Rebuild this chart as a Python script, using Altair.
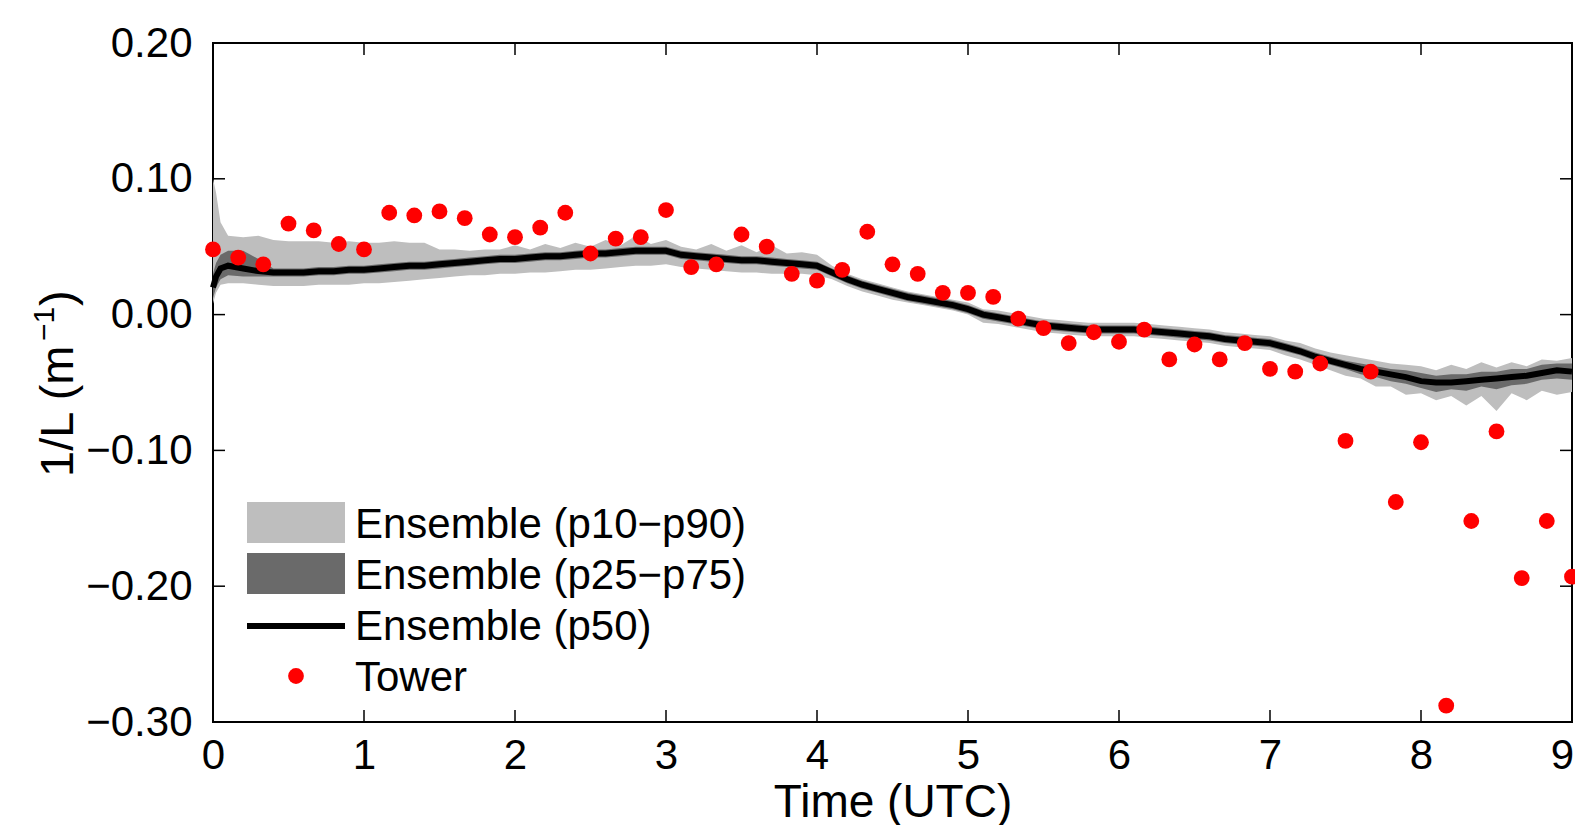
import altair as alt
import pandas as pd

# ---------------- data ----------------
hours = [0, 0.02, 0.05] + [round(0.1 * i, 1) for i in range(1, 91)]

p50 = [0.020, 0.028, 0.034,
       0.036, 0.034, 0.032, 0.031, 0.031, 0.031, 0.032, 0.032, 0.033, 0.033,
       0.034, 0.035, 0.036, 0.036, 0.037, 0.038, 0.039, 0.040, 0.041, 0.041,
       0.042, 0.043, 0.043, 0.044, 0.045, 0.045, 0.046, 0.047, 0.047, 0.047,
       0.044, 0.043, 0.042, 0.041, 0.040, 0.040, 0.039, 0.038, 0.037, 0.036,
       0.031, 0.026, 0.022, 0.019, 0.016, 0.013, 0.011, 0.009, 0.007, 0.004,
       0.000, -0.002, -0.004, -0.006, -0.008, -0.009, -0.010, -0.011, -0.011, -0.011,
       -0.011, -0.012, -0.013, -0.014, -0.015, -0.016, -0.018, -0.019, -0.020, -0.021,
       -0.024, -0.027, -0.031, -0.034, -0.037, -0.040, -0.042, -0.044, -0.046, -0.049,
       -0.050, -0.050, -0.049, -0.048, -0.047, -0.046, -0.045, -0.043, -0.041, -0.042]

p90 = [0.100, 0.090, 0.068,
       0.058, 0.057, 0.058, 0.055, 0.054, 0.054, 0.054, 0.053, 0.054, 0.053,
       0.053, 0.054, 0.053, 0.053, 0.048, 0.048, 0.047, 0.048, 0.048, 0.051,
       0.048, 0.052, 0.049, 0.053, 0.050, 0.055, 0.051, 0.058, 0.052, 0.055,
       0.050, 0.048, 0.052, 0.047, 0.051, 0.046, 0.051, 0.045, 0.046, 0.044,
       0.036, 0.030, 0.026, 0.023, 0.020, 0.017, 0.015, 0.013, 0.011, 0.009,
       0.004, 0.003, 0.001, -0.001, -0.003, -0.004, -0.005, -0.006, -0.006, -0.006,
       -0.006, -0.007, -0.008, -0.009, -0.010, -0.011, -0.013, -0.014, -0.015, -0.016,
       -0.019, -0.021, -0.025, -0.028, -0.030, -0.032, -0.034, -0.036, -0.037, -0.038,
       -0.041, -0.037, -0.040, -0.035, -0.039, -0.035, -0.038, -0.033, -0.034, -0.032]

p10 = [0.008, 0.016, 0.022,
       0.023, 0.023, 0.022, 0.021, 0.021, 0.021, 0.022, 0.022, 0.022, 0.023,
       0.023, 0.024, 0.025, 0.026, 0.027, 0.028, 0.029, 0.029, 0.030, 0.030,
       0.031, 0.031, 0.032, 0.033, 0.033, 0.034, 0.035, 0.036, 0.036, 0.037,
       0.035, 0.034, 0.033, 0.032, 0.031, 0.031, 0.030, 0.030, 0.030, 0.029,
       0.026, 0.021, 0.017, 0.014, 0.011, 0.009, 0.007, 0.005, 0.003, 0.000,
       -0.006, -0.007, -0.009, -0.011, -0.013, -0.014, -0.015, -0.016, -0.016, -0.016,
       -0.016, -0.017, -0.018, -0.019, -0.020, -0.021, -0.023, -0.024, -0.025, -0.026,
       -0.030, -0.033, -0.037, -0.041, -0.045, -0.047, -0.053, -0.053, -0.059, -0.058,
       -0.063, -0.060, -0.067, -0.060, -0.071, -0.058, -0.063, -0.056, -0.059, -0.057]

p75 = [0.030, 0.038, 0.044,
       0.047, 0.047, 0.041, 0.034, 0.034, 0.034, 0.035, 0.035, 0.036, 0.036,
       0.037, 0.038, 0.039, 0.039, 0.040, 0.041, 0.042, 0.043, 0.044, 0.044,
       0.045, 0.046, 0.046, 0.047, 0.048, 0.048, 0.049, 0.050, 0.050, 0.050,
       0.047, 0.046, 0.045, 0.044, 0.043, 0.043, 0.042, 0.041, 0.040, 0.039,
       0.034, 0.029, 0.025, 0.022, 0.019, 0.016, 0.014, 0.012, 0.010, 0.007,
       0.003, 0.001, -0.001, -0.003, -0.005, -0.006, -0.007, -0.008, -0.008, -0.008,
       -0.008, -0.009, -0.010, -0.011, -0.012, -0.013, -0.015, -0.016, -0.017, -0.018,
       -0.021, -0.024, -0.028, -0.031, -0.034, -0.036, -0.038, -0.040, -0.041, -0.043,
       -0.045, -0.044, -0.044, -0.042, -0.042, -0.040, -0.040, -0.037, -0.036, -0.036]

p25 = [0.012, 0.020, 0.026,
       0.029, 0.028, 0.028, 0.028, 0.028, 0.028, 0.029, 0.029, 0.030, 0.030,
       0.031, 0.032, 0.033, 0.033, 0.034, 0.035, 0.036, 0.037, 0.038, 0.038,
       0.039, 0.040, 0.040, 0.041, 0.042, 0.042, 0.043, 0.044, 0.044, 0.044,
       0.041, 0.040, 0.039, 0.038, 0.037, 0.037, 0.036, 0.035, 0.034, 0.033,
       0.028, 0.023, 0.019, 0.016, 0.013, 0.010, 0.008, 0.006, 0.004, 0.001,
       -0.003, -0.005, -0.007, -0.009, -0.011, -0.012, -0.013, -0.014, -0.014, -0.014,
       -0.014, -0.015, -0.016, -0.017, -0.018, -0.019, -0.021, -0.022, -0.023, -0.024,
       -0.027, -0.030, -0.034, -0.037, -0.040, -0.044, -0.046, -0.049, -0.051, -0.054,
       -0.057, -0.055, -0.056, -0.053, -0.055, -0.052, -0.051, -0.048, -0.047, -0.048]

tower_hours = [round(i / 6, 3) for i in range(0, 55)]
tower_vals = [0.048, 0.042, 0.037, 0.067, 0.062, 0.052, 0.048, 0.075, 0.073, 0.076,
              0.071, 0.059, 0.057, 0.064, 0.075, 0.045, 0.056, 0.057, 0.077, 0.035,
              0.037, 0.059, 0.050, 0.030, 0.025, 0.033, 0.061, 0.037, 0.030, 0.016,
              0.016, 0.013, -0.003, -0.010, -0.021, -0.013, -0.020, -0.011, -0.033, -0.022,
              -0.033, -0.021, -0.040, -0.042, -0.036, -0.093, -0.042, -0.138, -0.094, -0.288,
              -0.152, -0.086, -0.194, -0.152, -0.193]

x_ticks = [0, 1, 2, 3, 4, 5, 6, 7, 8, 9]
y_ticks = [-0.30, -0.20, -0.10, 0.00, 0.10, 0.20]

legend_labels = ["Ensemble (p10\u2212p90)", "Ensemble (p25\u2212p75)", "Ensemble (p50)", "Tower"]
x_title = "Time (UTC)"
y_title_parts = ["1/L (m", "\u22121", ")"]

# ---------------- chart ----------------
W, H = 1359, 679
FONT = "Liberation Sans"
LIGHT = "#bebebe"
DARK = "#6a6a6a"

ens = pd.DataFrame({"t": hours, "p10": p10, "p25": p25, "p50": p50, "p75": p75, "p90": p90})
tower = pd.DataFrame({"t": tower_hours, "v": tower_vals})
xt = pd.DataFrame({"t": x_ticks})
yt = pd.DataFrame({"v": y_ticks})
txt = pd.DataFrame({"label": legend_labels + y_title_parts})

xscale = alt.Scale(domain=[0, 9], nice=False, zero=False)
yscale = alt.Scale(domain=[-0.3, 0.2], nice=False, zero=False)

xaxis = alt.Axis(values=x_ticks, format="d", ticks=False, domain=False, grid=False,
                 labelFont=FONT, labelFontSize=42, labelColor="black", labelPadding=13,
                 labelFlush=False,
                 labelOffset={"condition": {"test": "datum.value === 9", "value": -10}, "value": 0},
                 title=x_title, titleFont=FONT, titleFontSize=46, titleFontWeight="normal",
                 titleColor="black", titleX=W / 2, titleY=94, titleBaseline="alphabetic",
                 titleAlign="center")
yaxis = alt.Axis(values=y_ticks, format=".2f", ticks=False, domain=False, grid=False,
                 labelFont=FONT, labelFontSize=42, labelColor="black", labelPadding=21,
                 labelFlush=False, title=None)


def X():
    return alt.X("t:Q", scale=xscale, axis=xaxis, title=x_title)


def Y(field):
    return alt.Y(field, type="quantitative", scale=yscale, axis=yaxis, title=None)


band90 = alt.Chart(ens).mark_area(color=LIGHT, opacity=1).encode(
    x=X(), y=Y("p10"), y2="p90:Q")
band75 = alt.Chart(ens).mark_area(color=DARK, opacity=1).encode(
    x=X(), y=Y("p25"), y2="p75:Q")
median = alt.Chart(ens).mark_line(color="black", strokeWidth=6).encode(
    x=X(), y=Y("p50"))
pts = alt.Chart(tower).mark_circle(color="#ff0000", opacity=1, size=250, clip=False).encode(
    x=X(), y=Y("v"))

TL = 12
xt_bot = alt.Chart(xt).mark_rule(color="black", strokeWidth=1.5).encode(
    x=X(), y=alt.value(H), y2=alt.value(H - TL))
xt_top = alt.Chart(xt).mark_rule(color="black", strokeWidth=1.5).encode(
    x=X(), y=alt.value(0), y2=alt.value(TL))
yt_left = alt.Chart(yt).mark_rule(color="black", strokeWidth=1.5).encode(
    y=Y("v"), x=alt.value(0), x2=alt.value(TL))
yt_right = alt.Chart(yt).mark_rule(color="black", strokeWidth=1.5).encode(
    y=Y("v"), x=alt.value(W), x2=alt.value(W - TL))


def one(label):
    return alt.Chart(txt).transform_filter(alt.datum.label == label)


# legend (drawn inside the plot, lower left)
lx0, lx1, ltx = 34, 132, 142
leg_light = one(legend_labels[0]).mark_rect(color=LIGHT).encode(
    x=alt.value(lx0), x2=alt.value(lx1), y=alt.value(459), y2=alt.value(500))
leg_dark = one(legend_labels[1]).mark_rect(color=DARK).encode(
    x=alt.value(lx0), x2=alt.value(lx1), y=alt.value(510), y2=alt.value(551))
leg_line = one(legend_labels[2]).mark_rule(color="black", strokeWidth=6).encode(
    x=alt.value(lx0), x2=alt.value(lx1), y=alt.value(583))
leg_dot = one(legend_labels[3]).mark_circle(color="#ff0000", opacity=1, size=250).encode(
    x=alt.value(83), y=alt.value(633))

leg_texts = []
for lab, yy in zip(legend_labels, [480, 531, 582, 633]):
    leg_texts.append(
        one(lab).mark_text(font=FONT, fontSize=42, color="black", align="left",
                           baseline="middle", dy=2)
        .encode(x=alt.value(ltx), y=alt.value(yy), text="label:N")
    )

# y-axis title with a real superscript, written as three rotated texts
ytitle = []
for lab, xx, yy, fs in zip(y_title_parts, [-140, -159, -140], [434, 298, 263], [47, 30, 47]):
    ytitle.append(
        one(lab).mark_text(font=FONT, fontSize=fs, color="black", align="left",
                           baseline="alphabetic", angle=270, clip=False)
        .encode(x=alt.value(xx), y=alt.value(yy), text="label:N")
    )

chart = alt.layer(
    band90, band75, median, pts,
    xt_bot, xt_top, yt_left, yt_right,
    leg_light, leg_dark, leg_line, leg_dot, *leg_texts, *ytitle,
).properties(
    width=W, height=H,
    padding={"left": 205, "top": 35, "right": 3, "bottom": 103},
    autosize=alt.AutoSizeParams(type="none"),
    background="white",
).configure_view(stroke="black", strokeWidth=2)

chart.save("out.html", embed_options={"renderer": "svg", "actions": False})
